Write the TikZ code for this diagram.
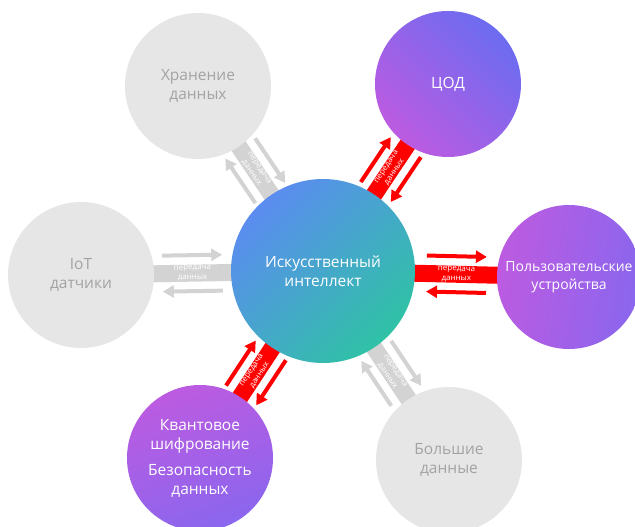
\documentclass[tikz,border=0pt]{standalone}
\usepackage{fontspec}
\setmainfont{Open Sans}
\usetikzlibrary{calc,arrows.meta}
\pgfdeclarelayer{bands}
\pgfsetlayers{bands,main}
\definecolor{aiA}{HTML}{5B8CF0}
\definecolor{aiB}{HTML}{2FC2A5}
\definecolor{vioA}{HTML}{BC5BE1}
\definecolor{vioB}{HTML}{6C6CF0}
\definecolor{vioC}{HTML}{8A66EE}
\definecolor{gcirc}{HTML}{E6E6E6}
\definecolor{gtext}{HTML}{A3A3A3}
\definecolor{gband}{HTML}{D3D3D3}
\definecolor{rband}{HTML}{FF0000}
\tikzset{
  lbl/.style={font=\fontsize{15.5}{19}\selectfont, align=center, text=white},
  graynode/.style={circle, fill=gcirc, minimum size=146pt, inner sep=0pt, lbl, text=gtext},
  violetnode/.style={circle, minimum size=146pt, inner sep=0pt, lbl},
  bandtext/.style={font=\fontsize{8}{9.5}\selectfont, align=center, text=white, inner sep=0pt},
  arrw/.style={line width=4pt, -{Triangle[length=11pt,width=12pt]}},
}
\newcommand\linkage[5]{%
  \begin{pgfonlayer}{bands}
    \draw[line width=17pt, #5] (#1.center) -- (#2.center);
  \end{pgfonlayer}
  \path ($(#1.center)!{#3pt-10pt}!(#2.center)$) -- node[sloped, bandtext]{передача\\данных} ($(#1.center)!{#3pt+10pt}!(#2.center)$);
  \draw[arrw, #5] ($(#1.center)!{#3pt-#4pt}!(#2.center)!18pt!90:(#2.center)$) -- ($(#1.center)!{#3pt+#4pt}!(#2.center)!18pt!90:(#2.center)$);
  \draw[arrw, #5] ($(#1.center)!{#3pt+#4pt}!(#2.center)!18pt!-90:(#2.center)$) -- ($(#1.center)!{#3pt-#4pt}!(#2.center)!18pt!-90:(#2.center)$);
}
\begin{document}
\begin{tikzpicture}[x=1pt,y=1pt]
\useasboundingbox (0,0) rectangle (635,-527);
\node[violetnode, minimum size=184pt, top color=aiA, bottom color=aiB, shading angle=45] (ai) at (323,-271) {Искусственный\\интеллект};
\node[graynode] (stor) at (198,-86) {Хранение\\данных};
\node[violetnode, top color=vioB, bottom color=vioA, shading angle=-45] (cod) at (448,-84) {ЦОД};
\node[graynode] (iot) at (81,-275) {IoT\\датчики};
\node[violetnode, minimum size=144pt, top color=vioA, bottom color=vioC, shading angle=80, font=\fontsize{14}{18}\selectfont] (user) at (569,-277) {Пользовательские\\устройства};
\node[violetnode, top color=vioA, bottom color=vioC, shading angle=20] (quant) at (200,-458) {Квантовое\\шифрование\\[7pt]Безопасность\\данных};
\node[graynode] (big) at (449,-460) {Большие\\данные};
\linkage{ai}{stor}{121}{27}{gband}
\linkage{ai}{cod}{122}{27}{rband}
\linkage{ai}{iot}{130.5}{30}{gband}
\linkage{ai}{user}{133.5}{30}{rband}
\linkage{ai}{quant}{122}{27}{rband}
\linkage{ai}{big}{123}{27}{gband}
\end{tikzpicture}
\end{document}
